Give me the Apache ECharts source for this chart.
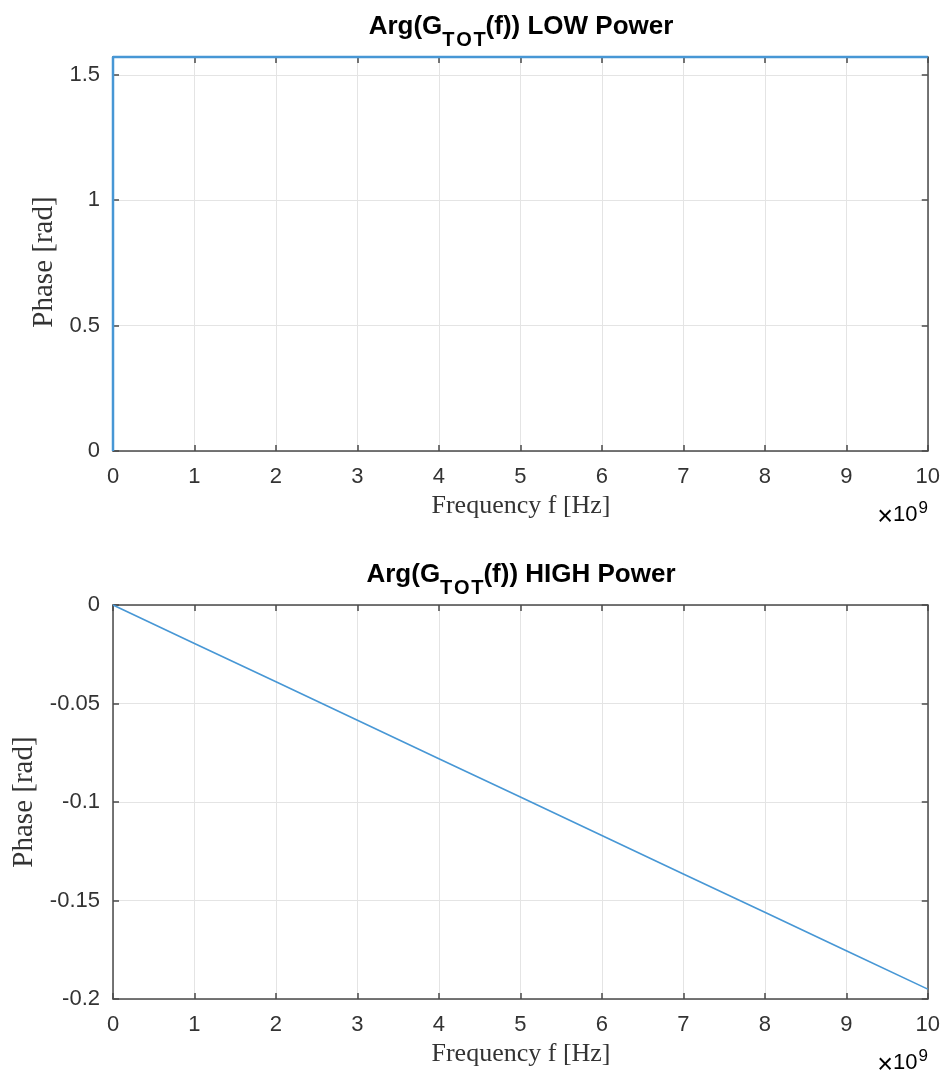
<!DOCTYPE html>
<html>
<head>
<meta charset="utf-8">
<script src="https://cdn.jsdelivr.net/npm/echarts@6/dist/echarts.min.js"></script>
<style>
html,body{margin:0;padding:0;background:#fff;}
#chart{width:943px;height:1076px;}
</style>
</head>
<body>
<div id="chart"></div>
<script>
// ---- data (frequency in units of 1e9 Hz) ----
const lowFreq = [0, 0, 10];
const lowPhase = [0, 1.5708, 1.5708];
const highFreq = [0, 1, 2, 3, 4, 5, 6, 7, 8, 9, 10];
const highPhase = [0, -0.0195, -0.039, -0.0585, -0.078, -0.0975, -0.117, -0.1365, -0.156, -0.1755, -0.195];
const xTicks = [0, 1, 2, 3, 4, 5, 6, 7, 8, 9, 10];
const lowYTicks = [0, 0.5, 1, 1.5];
const highYTicks = [0, -0.05, -0.1, -0.15, -0.2];
const titles = ['LOW Power', 'HIGH Power'];

const chart = echarts.init(document.getElementById('chart'), null, {renderer: 'canvas'});

const AX = '#4a4a4a';
const GRIDC = '#e4e4e4';
const LBL = '#333333';
const LINEC = '#4797d5';
const SANS = 'Liberation Sans';
const SERIF = 'Liberation Serif';

const gridTops = [57, 605];
const gridH = 394, gridL = 113, gridW = 816;

function xAxisMain(gi) {
  return {
    type: 'value', gridIndex: gi, position: 'bottom',
    min: xTicks[0], max: xTicks[xTicks.length - 1], interval: 1,
    axisLine: {show: true, onZero: false, lineStyle: {color: AX, width: 1.5}},
    axisTick: {show: true, inside: true, length: 6, lineStyle: {color: AX, width: 1.5}},
    axisLabel: {show: true, margin: 15, fontFamily: SANS, fontSize: 22, color: LBL},
    splitLine: {show: true, lineStyle: {color: GRIDC, width: 1}}
  };
}
function xAxisTop(gi) {
  return {
    type: 'value', gridIndex: gi, position: 'top',
    min: xTicks[0], max: xTicks[xTicks.length - 1], interval: 1,
    axisLine: {show: true, onZero: false, lineStyle: {color: AX, width: 1.5}},
    axisTick: {show: true, inside: true, length: 6, lineStyle: {color: AX, width: 1.5}},
    axisLabel: {show: false},
    splitLine: {show: false}
  };
}
function yAxisMain(gi, ticks, max) {
  const mn = Math.min(...ticks);
  return {
    type: 'value', gridIndex: gi, position: 'left',
    min: mn, max: max, interval: Math.abs(ticks[1] - ticks[0]),
    axisLine: {show: true, onZero: false, lineStyle: {color: AX, width: 1.5}},
    axisTick: {show: true, inside: true, length: 6, lineStyle: {color: AX, width: 1.5}},
    axisLabel: {
      show: true, margin: 13, fontFamily: SANS, fontSize: 22, color: LBL,
      formatter: function (v) {
        const hit = ticks.find(t => Math.abs(t - v) < 1e-9);
        return hit === undefined ? '' : String(hit);
      }
    },
    splitLine: {show: true, lineStyle: {color: GRIDC, width: 1}}
  };
}
function yAxisRight(gi, ticks, max) {
  const mn = Math.min(...ticks);
  return {
    type: 'value', gridIndex: gi, position: 'right',
    min: mn, max: max, interval: Math.abs(ticks[1] - ticks[0]),
    axisLine: {show: true, onZero: false, lineStyle: {color: AX, width: 1.5}},
    axisTick: {show: true, inside: true, length: 6, lineStyle: {color: AX, width: 1.5}},
    axisLabel: {show: false},
    splitLine: {show: false}
  };
}

function titleText(i) {
  return {
    type: 'text', x: gridL + gridW / 2, y: gridTops[i] - 43, z: 100,
    style: {
      text: '{a|Arg(G}{s|T\u200aO\u200aT}{a|(f)) ' + titles[i] + '}',
      align: 'center', verticalAlign: 'top', textAlign: 'center', textVerticalAlign: 'top',
      rich: {
        a: {fontFamily: SANS, fontWeight: 'bold', fontSize: 26, lineHeight: 27, verticalAlign: 'top', color: '#111'},
        s: {fontFamily: SANS, fontWeight: 'bold', fontSize: 20, lineHeight: 21, padding: [16, 0, 0, 0], verticalAlign: 'top', color: '#111'}
      }
    }
  };
}
function xName(i) {
  return {
    type: 'text', x: gridL + gridW / 2, y: gridTops[i] + gridH + 55, z: 100,
    style: {
      text: 'Frequency f [Hz]', fontFamily: SERIF, fontSize: 26, fill: '#333',
      align: 'center', verticalAlign: 'middle', textAlign: 'center', textVerticalAlign: 'middle'
    }
  };
}
function yName(i, x, yc) {
  return {
    type: 'text', x: x, y: yc, rotation: Math.PI / 2, z: 100,
    style: {
      text: 'Phase [rad]', fontFamily: SERIF, fontSize: 29, fill: '#333',
      align: 'center', verticalAlign: 'middle', textAlign: 'center', textVerticalAlign: 'middle'
    }
  };
}
function expText(i) {
  return {
    type: 'text', x: 928, y: gridTops[i] + gridH + 48, z: 100,
    style: {
      text: '{x|\u00d7}{a|10}{b|9}',
      align: 'right', verticalAlign: 'top', textAlign: 'right', textVerticalAlign: 'top',
      rich: {
        x: {fontFamily: SANS, fontSize: 27, lineHeight: 22, padding: [5, 0, 0, 0], verticalAlign: 'top', color: LBL},
        a: {fontFamily: SANS, fontSize: 22, lineHeight: 22, padding: [5, 0, 0, 0], verticalAlign: 'top', color: LBL},
        b: {fontFamily: SANS, fontSize: 17, lineHeight: 17, padding: [1, 0, 0, 1], verticalAlign: 'top', color: LBL}
      }
    }
  };
}

const option = {
  backgroundColor: '#ffffff',
  animation: false,
  grid: gridTops.map(t => ({left: gridL, top: t, width: gridW, height: gridH, containLabel: false})),
  xAxis: [xAxisMain(0), xAxisTop(0), xAxisMain(1), xAxisTop(1)],
  yAxis: [
    yAxisMain(0, lowYTicks, lowPhase[1]), yAxisRight(0, lowYTicks, lowPhase[1]),
    yAxisMain(1, highYTicks, 0), yAxisRight(1, highYTicks, 0)
  ],
  series: [
    {
      type: 'line', xAxisIndex: 0, yAxisIndex: 0, showSymbol: false, clip: false, z: 5,
      lineStyle: {color: LINEC, width: 2.5},
      data: lowFreq.map((f, k) => [f, lowPhase[k]])
    },
    {
      type: 'line', xAxisIndex: 2, yAxisIndex: 2, showSymbol: false, clip: false, z: 5,
      lineStyle: {color: LINEC, width: 1.6},
      data: highFreq.map((f, k) => [f, highPhase[k]])
    }
  ],
  graphic: [
    titleText(0), titleText(1),
    xName(0), xName(1),
    yName(0, 44, 262), yName(1, 24, 802),
    expText(0), expText(1)
  ]
};
chart.setOption(option);
</script>
</body>
</html>
